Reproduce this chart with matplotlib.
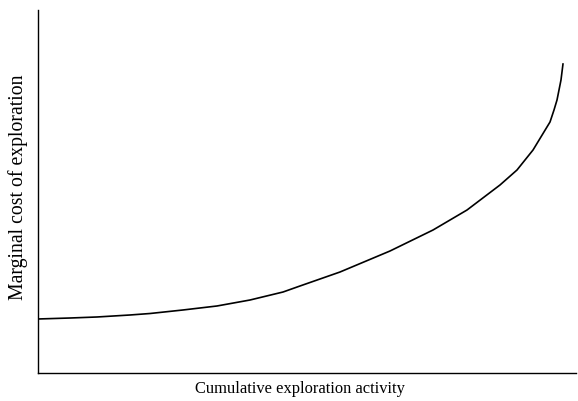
import matplotlib
matplotlib.use("Agg")
import matplotlib.pyplot as plt

# Cumulative exploration activity (relative units) and marginal cost (relative units)
activity = [0.0, 5.95, 10.97, 17.10, 20.82, 26.95, 33.27, 39.41, 45.54, 48.70,
            56.13, 65.43, 73.42, 79.74, 85.87, 89.03, 92.01, 95.17, 95.91,
            96.47, 96.84, 97.21, 97.58]
marginal_cost = [14.88, 15.15, 15.43, 15.98, 16.39, 17.36, 18.46, 20.11, 22.31, 23.97,
                 27.82, 33.61, 39.39, 44.90, 51.79, 55.92, 61.43, 69.15, 72.45,
                 75.21, 77.96, 80.72, 85.12]

x_label = "Cumulative exploration activity"
y_label = "Marginal cost of exploration"

plt.rcParams['font.family'] = ['Liberation Serif', 'DejaVu Serif']

fig = plt.figure(figsize=(5.78, 4.01), dpi=100)
ax = fig.add_axes([38/578, 28/401, (576-38)/578, (373-10)/401])
ax.plot(activity, marginal_cost, color='black', linewidth=1.2,
        solid_joinstyle='round')
ax.set_xlim(0, 100)
ax.set_ylim(0, 100)
ax.spines['top'].set_visible(False)
ax.spines['right'].set_visible(False)
ax.spines['left'].set_linewidth(1.0)
ax.spines['bottom'].set_linewidth(1.0)
ax.set_xticks([])
ax.set_yticks([])

fig.text(300/578, 1 - 389/401, x_label, ha='center', va='center', fontsize=11.9)
fig.text(18/578, 1 - 187/401, y_label, ha='center', va='center', rotation=90, fontsize=14.2)

fig.savefig("out.png", dpi=100)
